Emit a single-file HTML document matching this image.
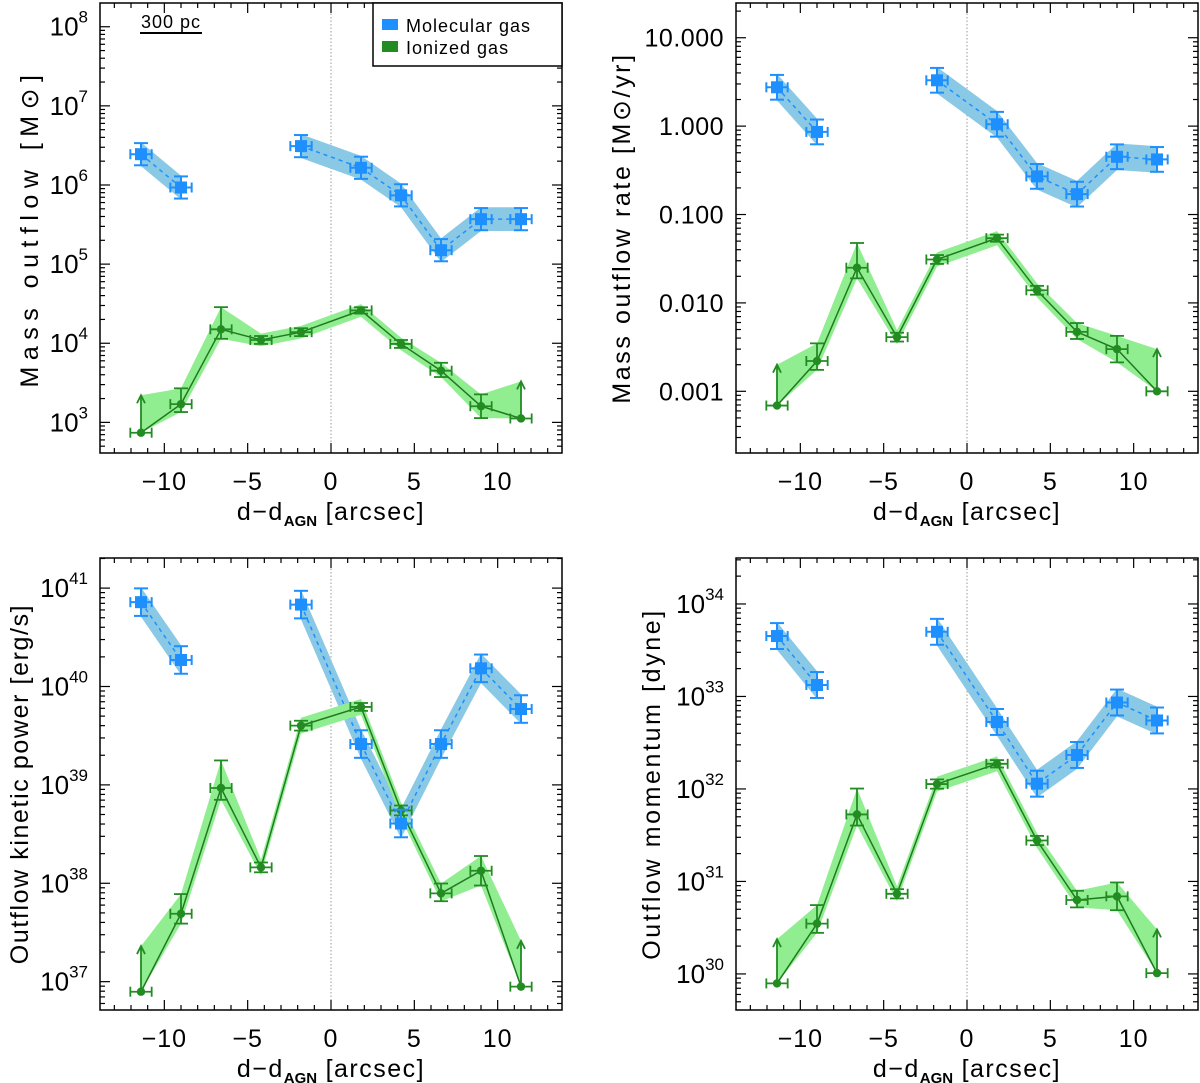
<!DOCTYPE html>
<html><head><meta charset="utf-8">
<style>
body{margin:0;background:#fff;}
svg{display:block;font-family:"Liberation Sans",sans-serif;}
</style></head>
<body>
<svg id="fig" width="1200" height="1083" viewBox="0 0 1200 1083" xmlns="http://www.w3.org/2000/svg"></svg>
<script>
// ---- data ----
const molX = [-11.4, -9.0, -1.8, 1.8, 4.2, 6.6, 9.0, 11.4];
const ionX = [-11.4, -9.0, -6.6, -4.2, -1.8, 1.8, 4.2, 6.6, 9.0, 11.4];
const ionLimitIdx = [0, 9];
const massMol = [2.45e6, 9.3e5, 3.1e6, 1.65e6, 7.4e5, 1.5e5, 3.7e5, 3.7e5];
const massIon = [740, 1700, 1.5e4, 1.1e4, 1.38e4, 2.6e4, 9.8e3, 4.5e3, 1.6e3, 1.12e3];
const massIonLim = [2.2e3, 3.3e3];
const rateMol = [2.75, 0.86, 3.3, 1.05, 0.27, 0.17, 0.45, 0.42];
const rateIon = [6.9e-4, 2.2e-3, 0.025, 4.1e-3, 0.031, 0.054, 0.0139, 0.0047, 0.003, 0.001];
const rateIonLim = [2.0e-3, 3.0e-3];
const powMol = [7.2e40, 1.86e40, 6.8e40, 2.6e39, 4.05e38, 2.6e39, 1.53e40, 5.9e39];
const powIon = [7.9e36, 4.9e37, 9.3e38, 1.45e38, 4.0e39, 6.2e39, 5.5e38, 7.9e37, 1.34e38, 8.9e36];
const powIonLim = [2.3e37, 2.6e37];
const momMol = [4.5e33, 1.33e33, 5.0e33, 5.3e32, 1.14e32, 2.33e32, 8.6e32, 5.5e32];
const momIon = [7.9e29, 3.5e30, 5.3e31, 7.35e30, 1.13e32, 1.87e32, 2.77e31, 6.3e30, 6.9e30, 1.02e30];
const momIonLim = [2.38e30, 3.03e30];
const molErr = [0.14, 0.14, 0.14, 0.14, 0.14, 0.14, 0.14, 0.14];
const ionErrUp = [0, 0.2, 0.28, 0.05, 0.05, 0.04, 0.05, 0.1, 0.15, 0];
const ionErrDn = [0, 0.1, 0.12, 0.05, 0.05, 0.04, 0.05, 0.08, 0.15, 0];
const xTicks = [-10, -5, 0, 5, 10];
const xTickLabels = ["\u221210", "\u22125", "0", "5", "10"];
const rateTickLabels = ["0.001", "0.010", "0.100", "1.000", "10.000"];

const NS = "http://www.w3.org/2000/svg";
const svg = document.getElementById('fig');
function el(tag, attrs, parent, text) {
  const e = document.createElementNS(NS, tag);
  for (const k in attrs) e.setAttribute(k, attrs[k]);
  if (text !== undefined) e.textContent = text;
  (parent || svg).appendChild(e);
  return e;
}

const panels = [
  {name:'mass-outflow', x0:100, x1:562, y0:3, y1:453, lmin:2.613, lmax:8.30, decs:[3,4,5,6,7,8], mol:massMol, ion:massIon, lim:massIonLim, ylabel:'Mass outflow [M\u2299]', ylx:30, ls:6.5, fmt:'exp'},
  {name:'mass-outflow-rate', x0:736, x1:1198, y0:3, y1:453, lmin:-3.698, lmax:1.393, decs:[-3,-2,-1,0,1], mol:rateMol, ion:rateIon, lim:rateIonLim, ylabel:'Mass outflow rate [M\u2299/yr]', ylx:622, ls:2.6, fmt:'dec'},
  {name:'kinetic-power', x0:100, x1:562, y0:558, y1:1010, lmin:36.712, lmax:41.306, decs:[37,38,39,40,41], mol:powMol, ion:powIon, lim:powIonLim, ylabel:'Outflow kinetic power [erg/s]', ylx:20, ls:1.6, fmt:'exp'},
  {name:'momentum', x0:736, x1:1198, y0:558, y1:1010, lmin:29.61, lmax:34.497, decs:[30,31,32,33,34], mol:momMol, ion:momIon, lim:momIonLim, ylabel:'Outflow momentum [dyne]', ylx:652, ls:2.6, fmt:'exp'}
];
const XMIN = -13.86, XMAX = 13.86;

panels.forEach(p => {
  const g = el('g', {});
  
  
  const sx = v => p.x0 + (v - XMIN) / (XMAX - XMIN) * (p.x1 - p.x0);
  const sy = v => p.y1 - (Math.log10(v) - p.lmin) / (p.lmax - p.lmin) * (p.y1 - p.y0);
  const syl = l => p.y1 - (l - p.lmin) / (p.lmax - p.lmin) * (p.y1 - p.y0);

  const zl = el('line', {x1:sx(0), x2:sx(0), y1:p.y0, y2:p.y1, stroke:'#999', 'stroke-width':1, 'stroke-dasharray':'1.5,2'}, g);
  
  

  [[0,1],[2,7]].forEach((seg) => {
    const up = [], dn = [];
    for (let i = seg[0]; i <= seg[1]; i++) {
      const l = Math.log10(p.mol[i]);
      up.push(sx(molX[i]) + ',' + syl(l + 0.15));
      dn.unshift(sx(molX[i]) + ',' + syl(l - 0.15));
    }
    const b = el('polygon', {points: up.concat(dn).join(' '), fill:'#89c9e6'}, g);
    
    
    const pts = [];
    for (let i = seg[0]; i <= seg[1]; i++) pts.push(sx(molX[i]) + ',' + sy(p.mol[i]));
    const ln = el('polyline', {points: pts.join(' '), fill:'none', stroke:'#1e8fff', 'stroke-width':1.5, 'stroke-dasharray':'4,4'}, g);
    
    
  });

  const up = [], dn = [];
  ionX.forEach((x, i) => {
    const l = Math.log10(p.ion[i]);
    const li = ionLimitIdx.indexOf(i);
    let hi, lo;
    if (li >= 0) { hi = Math.log10(p.lim[li]); lo = l; }
    else { hi = l + Math.max(ionErrUp[i], 0.08); lo = l - Math.max(ionErrDn[i], 0.08); }
    up.push(sx(x) + ',' + syl(hi));
    dn.unshift(sx(x) + ',' + syl(lo));
  });
  const ib = el('polygon', {points: up.concat(dn).join(' '), fill:'#90ee90'}, g);
  
  
  const ipts = ionX.map((x, i) => sx(x) + ',' + sy(p.ion[i]));
  const il = el('polyline', {points: ipts.join(' '), fill:'none', stroke:'#1f7a1f', 'stroke-width':1.5}, g);
  
  

  const hw = 0.64;
  ionX.forEach((x, i) => {
    const cx = sx(x), cy = sy(p.ion[i]);
    const l = Math.log10(p.ion[i]);
    const c = '#228b22';
    const eg = el('g', {stroke:c, 'stroke-width':1.8, fill:'none'}, g);
    
    
    el('line', {x1:sx(x-hw), x2:sx(x+hw), y1:cy, y2:cy}, eg);
    el('line', {x1:sx(x-hw), x2:sx(x-hw), y1:cy-5, y2:cy+5}, eg);
    el('line', {x1:sx(x+hw), x2:sx(x+hw), y1:cy-5, y2:cy+5}, eg);
    const li = ionLimitIdx.indexOf(i);
    if (li >= 0) {
      const ty = sy(p.lim[li]);
      el('line', {x1:cx, x2:cx, y1:cy, y2:ty}, eg);
      el('polyline', {points:(cx-4)+','+(ty+8)+' '+cx+','+ty+' '+(cx+4)+','+(ty+8)}, eg);
    } else {
      const yu = syl(l + ionErrUp[i]), yd = syl(l - ionErrDn[i]);
      el('line', {x1:cx, x2:cx, y1:yu, y2:yd}, eg);
      el('line', {x1:cx-7, x2:cx+7, y1:yu, y2:yu}, eg);
      el('line', {x1:cx-7, x2:cx+7, y1:yd, y2:yd}, eg);
    }
    const m = el('circle', {cx:cx, cy:cy, r:4.2, fill:c}, g);
    
    
  });

  molX.forEach((x, i) => {
    const cx = sx(x), cy = sy(p.mol[i]);
    const l = Math.log10(p.mol[i]);
    const c = '#1e8fff';
    const eg = el('g', {stroke:c, 'stroke-width':2, fill:'none'}, g);
    
    
    el('line', {x1:sx(x-hw), x2:sx(x+hw), y1:cy, y2:cy}, eg);
    el('line', {x1:sx(x-hw), x2:sx(x-hw), y1:cy-5, y2:cy+5}, eg);
    el('line', {x1:sx(x+hw), x2:sx(x+hw), y1:cy-5, y2:cy+5}, eg);
    const yu = syl(l + molErr[i]), yd = syl(l - molErr[i]);
    el('line', {x1:cx, x2:cx, y1:yu, y2:yd}, eg);
    el('line', {x1:cx-7, x2:cx+7, y1:yu, y2:yu}, eg);
    el('line', {x1:cx-7, x2:cx+7, y1:yd, y2:yd}, eg);
    const m = el('rect', {x:cx-6, y:cy-6, width:12, height:12, fill:c}, g);
    
    
  });

  const fr = el('rect', {x:p.x0, y:p.y0, width:p.x1-p.x0, height:p.y1-p.y0, fill:'none', stroke:'#000', 'stroke-width':1.5}, g);
  
  

  const tg = el('g', {stroke:'#000', 'stroke-width':1.2}, g);
  
  
  for (let v = -13; v <= 13; v++) {
    const L = (v % 5 === 0) ? 10 : 5;
    el('line', {x1:sx(v), x2:sx(v), y1:p.y1, y2:p.y1-L}, tg);
    el('line', {x1:sx(v), x2:sx(v), y1:p.y0, y2:p.y0+L}, tg);
  }
  xTicks.forEach((v, i) => {
    const t = el('text', {x:sx(v), y:p.y1+37, 'font-size':25, 'text-anchor':'middle', 'letter-spacing':1}, g, xTickLabels[i]);
    
    
  });
  const xt = el('text', {x:(p.x0+p.x1)/2, y:p.y1+67, 'font-size':25, 'text-anchor':'middle', 'letter-spacing':1.5}, g);
  
  
  el('tspan', {}, xt, 'd\u2212d');
  el('tspan', {'font-size':15, dy:6, 'font-weight':'bold', 'letter-spacing':0}, xt, 'AGN');
  el('tspan', {dy:-6}, xt, ' [arcsec]');

  for (let d = Math.floor(p.lmin); d <= Math.ceil(p.lmax); d++) {
    for (let k = 1; k <= 9; k++) {
      const l = d + Math.log10(k);
      if (l < p.lmin || l > p.lmax) continue;
      const y = syl(l), L = k === 1 ? 10 : 5;
      el('line', {x1:p.x0, x2:p.x0+L, y1:y, y2:y}, tg);
      el('line', {x1:p.x1, x2:p.x1-L, y1:y, y2:y}, tg);
    }
  }
  p.decs.forEach((d, i) => {
    const y = syl(d);
    let t;
    if (p.fmt === 'exp') {
      t = el('text', {x:p.x0-12, y:y+9, 'font-size':26, 'text-anchor':'end'}, g);
      el('tspan', {}, t, '10');
      el('tspan', {'font-size':17, dy:-13}, t, String(d));
    } else {
      t = el('text', {x:p.x0-12, y:y+9, 'font-size':25, 'text-anchor':'end', 'letter-spacing':0.5}, g, rateTickLabels[i]);
    }
    
    
  });
  const cy = (p.y0 + p.y1) / 2;
  const yt = el('text', {x:p.ylx, y:cy, 'font-size':25, 'text-anchor':'middle', 'letter-spacing':p.ls, transform:'rotate(-90 '+p.ylx+' '+cy+')', 'dominant-baseline':'central'}, g, p.ylabel);
  
  
});

const lg = el('g', {});


el('rect', {x:373, y:3, width:189, height:63, fill:'#fff', stroke:'#000', 'stroke-width':1.5}, lg);
const le1 = el('g', {}, lg);


el('rect', {x:382, y:19, width:16, height:11, fill:'#1e8fff'}, le1);
el('text', {x:406, y:32, 'font-size':18, 'letter-spacing':1}, le1, 'Molecular gas');
const le2 = el('g', {}, lg);


el('rect', {x:382, y:41, width:16, height:11, fill:'#228b22'}, le2);
el('text', {x:406, y:54, 'font-size':18, 'letter-spacing':1}, le2, 'Ionized gas');

const sb = el('g', {});


el('text', {x:141, y:28, 'font-size':18, 'letter-spacing':1}, sb, '300 pc');
el('line', {x1:140, x2:202, y1:33, y2:33, stroke:'#000', 'stroke-width':2}, sb);
</script>
</body></html>
